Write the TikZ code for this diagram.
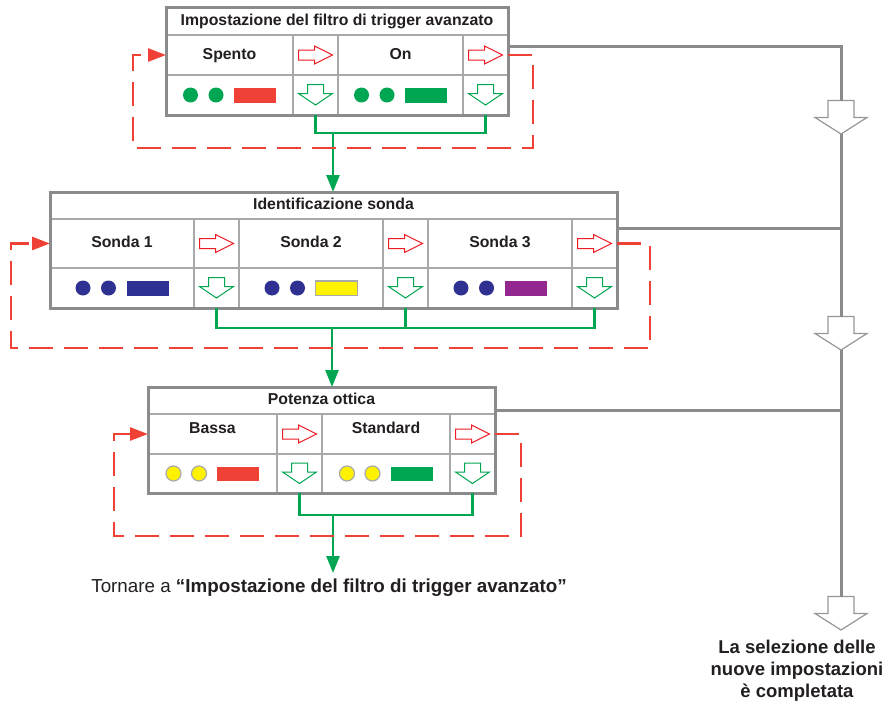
\documentclass[tikz,border=0pt]{standalone}
\usepackage{fontspec}
\setmainfont{Liberation Sans}
\usepackage{xcolor}
\usepackage{tikz}
\usetikzlibrary{arrows.meta, positioning, calc}

\definecolor{framegray}{RGB}{138,139,141}
\definecolor{cellgray}{RGB}{168,169,171}
\definecolor{arrowgray}{RGB}{150,151,153}
\definecolor{textdark}{RGB}{35,31,32}
\definecolor{loopred}{RGB}{239,65,54}
\definecolor{arrowred}{RGB}{237,28,36}
\definecolor{flowgreen}{RGB}{0,166,81}
\definecolor{lampnavy}{RGB}{46,49,146}
\definecolor{lampyellow}{RGB}{255,242,0}
\definecolor{lamppurple}{RGB}{146,39,143}

\begin{document}
\begin{tikzpicture}[
    x=1pt, y=-1pt,
    cell/.style={rectangle, draw=cellgray, line width=1.3pt, minimum width=#1, minimum height=40pt, inner sep=0pt, outer sep=0pt, font=\bfseries\fontsize{15.8}{18}\selectfont, text=textdark, text height=11pt, text depth=3pt},
    cell/.default={45pt},
    headcell/.style={cell=#1, minimum height=27pt},
    raised/.style={text depth=12pt},
    frame/.style={draw=framegray, line width=3pt},
    exitline/.style={draw=framegray, line width=3pt},
    flow/.style={draw=flowgreen, line width=2.6pt},
    flowtip/.style={flow, -{Triangle[length=17pt, width=13pt]}},
    loopback/.style={draw=loopred, line width=2.6pt, dash pattern=on 24pt off 11pt, -{Triangle[length=18pt, width=13pt]}},
    note/.style={font=\fontsize{18.8}{22}\selectfont, text=textdark, inner sep=0pt},
    pics/lamps/.style n args={2}{code={
        \path[#1] (-39,0) circle[radius=7.5pt] (-13.5,0) circle[radius=7.5pt];
        \path[#2] (4.5,-7) rectangle (46.5,7.5);
    }},
    pics/nextarrow/.style={code={
        \draw[arrowred, line width=1pt] (-17,-5) -- (-1,-5) -- (-1,-9) -- (17,0) -- (-1,9) -- (-1,5) -- (-17,5) -- cycle;
    }},
    pics/selarrow/.style={code={
        \draw[flowgreen, line width=1pt] (-8,-10.5) -- (8,-10.5) -- (8,-1.5) -- (17,-1.5) -- (0,10) -- (-17,-1.5) -- (-8,-1.5) -- cycle;
    }},
    pics/bigdown/.style={code={
        \draw[arrowgray, line width=1.2pt, fill=white] (-13,-17) -- (13,-17) -- (13,0) -- (26,0) -- (0,16.5) -- (-26,0) -- (-13,0) -- cycle;
        \coordinate (-top) at (0,-17);
        \coordinate (-tip) at (0,16.5);
    }},
]

\fill[white] (0,0) rectangle (886,704);
\useasboundingbox (0,0) rectangle (886,704);

% ── Box 1: trigger filter ──
\node[headcell=342pt, minimum height=28pt, anchor=north west] (filtro_title) at (166,7) {Impostazione del filtro di trigger avanzato};
\node[cell=127pt, anchor=north west] (spento) at (filtro_title.south west) {Spento};
\node[cell, right=0pt of spento] (spento_next) {};
\node[cell=125pt, right=0pt of spento_next] (on_cell) {On};
\node[cell, right=0pt of on_cell] (on_next) {};
\node[cell=127pt, below=0pt of spento] (spento_ico) {};
\node[cell, below=0pt of spento_next] (spento_sel) {};
\node[cell=125pt, below=0pt of on_cell] (on_ico) {};
\node[cell, below=0pt of on_next] (on_sel) {};

% ── Box 2: probe identification ──
\node[headcell=567pt, anchor=north west] (sonda_title) at (50,192) {Identificazione sonda};
\node[cell=144pt, minimum height=49pt, anchor=north west] (sonda1) at (sonda_title.south west) {Sonda 1};
\node[cell, minimum height=49pt, right=0pt of sonda1] (sonda1_next) {};
\node[cell=144pt, minimum height=49pt, right=0pt of sonda1_next] (sonda2) {Sonda 2};
\node[cell, minimum height=49pt, right=0pt of sonda2] (sonda2_next) {};
\node[cell=144pt, minimum height=49pt, right=0pt of sonda2_next] (sonda3) {Sonda 3};
\node[cell, minimum height=49pt, right=0pt of sonda3] (sonda3_next) {};
\node[cell=144pt, below=0pt of sonda1] (sonda1_ico) {};
\node[cell, below=0pt of sonda1_next] (sonda1_sel) {};
\node[cell=144pt, below=0pt of sonda2] (sonda2_ico) {};
\node[cell, below=0pt of sonda2_next] (sonda2_sel) {};
\node[cell=144pt, below=0pt of sonda3] (sonda3_ico) {};
\node[cell, below=0pt of sonda3_next] (sonda3_sel) {};

% ── Box 3: optical power ──
\node[headcell=347pt, anchor=north west] (ottica_title) at (148,387) {Potenza ottica};
\node[cell=129pt, raised, anchor=north west] (bassa) at (ottica_title.south west) {Bassa};
\node[cell, right=0pt of bassa] (bassa_next) {};
\node[cell=128pt, raised, right=0pt of bassa_next] (standard) {Standard};
\node[cell, right=0pt of standard] (standard_next) {};
\node[cell=129pt, minimum height=39pt, below=0pt of bassa] (bassa_ico) {};
\node[cell, minimum height=39pt, below=0pt of bassa_next] (bassa_sel) {};
\node[cell=128pt, minimum height=39pt, below=0pt of standard] (standard_ico) {};
\node[cell, minimum height=39pt, below=0pt of standard_next] (standard_sel) {};

% ── Lamps ──
\pic at (spento_ico) {lamps={fill=flowgreen}{fill=loopred}};
\pic at (on_ico) {lamps={fill=flowgreen}{fill=flowgreen}};
\pic at (sonda1_ico) {lamps={fill=lampnavy}{fill=lampnavy}};
\pic at (sonda2_ico) {lamps={fill=lampnavy}{fill=lampyellow, draw=cellgray, line width=1.8pt}};
\pic at (sonda3_ico) {lamps={fill=lampnavy}{fill=lamppurple}};
\pic at (bassa_ico) {lamps={fill=lampyellow, draw=cellgray, line width=1.2pt}{fill=loopred}};
\pic at (standard_ico) {lamps={fill=lampyellow, draw=cellgray, line width=1.2pt}{fill=flowgreen}};

% ── Cell arrows ──
\foreach \c in {spento_next, on_next, sonda1_next, sonda2_next, sonda3_next, bassa_next, standard_next}
    \pic at (\c) {nextarrow};
\foreach \c in {spento_sel, on_sel, sonda1_sel, sonda2_sel, sonda3_sel, bassa_sel, standard_sel}
    \pic at (\c) {selarrow};

% ── Outer frames ──
\draw[frame] (filtro_title.north west) rectangle (on_sel.south east);
\draw[frame] (sonda_title.north west) rectangle (sonda3_sel.south east);
\draw[frame] (ottica_title.north west) rectangle (standard_sel.south east);

% ── Green flow ──
\coordinate (drop1) at (333,133);
\coordinate (drop2) at (332,328);
\coordinate (drop3) at (333,515);
\draw[flow] (spento_sel.south) |- (drop1) -| (on_sel.south);
\draw[flowtip] (drop1) -- (drop1 |- sonda_title.north);
\draw[flow] (sonda1_sel.south) |- (drop2) -| (sonda3_sel.south);
\draw[flow] (sonda2_sel.south) -- (sonda2_sel.south |- drop2);
\draw[flowtip] (drop2) -- (drop2 |- ottica_title.north);
\draw[flow] (bassa_sel.south) |- (drop3) -| (standard_sel.south);

\node[note, anchor=north, inner ysep=6pt] (back_note) at (329,573) {Tornare a \textbf{“Impostazione del filtro di trigger avanzato”}};
\draw[flowtip] (drop3) -- (drop3 |- back_note.north);

% ── Red loops ──
\coordinate (loop1_se) at (533,148);
\coordinate (loop1_sw) at (133,148);
\coordinate (loop2_se) at (650,348);
\coordinate (loop2_sw) at (11,348);
\coordinate (loop3_se) at (521,536);
\coordinate (loop3_sw) at (114,536);
\draw[loopback] (on_next.east) -| (loop1_se) -- (loop1_sw) |- (spento.west);
\draw[loopback] (sonda3_next.east) -| (loop2_se) -- (loop2_sw) |- (sonda1.west);
\draw[loopback] (standard_next.east) -| (loop3_se) -- (loop3_sw) |- (bassa.west);

% ── Exit line ──
\pic (done1) at (841,117.5) {bigdown};
\pic (done2) at (841,333.5) {bigdown};
\pic (done3) at (841,613.5) {bigdown};
\coordinate (exit1) at (841,46);
\coordinate (exit2) at (841,228);
\coordinate (exit3) at (841,410);
\draw[exitline] (on_next.east |- exit1) -- (exit1) -- (done1-top);
\draw[exitline] (sonda3_next.east |- exit2) -- (exit2);
\draw[exitline] (done1-tip) -- (done2-top);
\draw[exitline] (ottica_title.east |- exit3) -- (exit3);
\draw[exitline] (done2-tip) -- (done3-top);

\node[note, font=\bfseries\fontsize{18.5}{22}\selectfont, align=center, anchor=north] (done_note) at (797,640) {La selezione delle\\nuove impostazioni\\è completata};

\end{tikzpicture}
\end{document}
